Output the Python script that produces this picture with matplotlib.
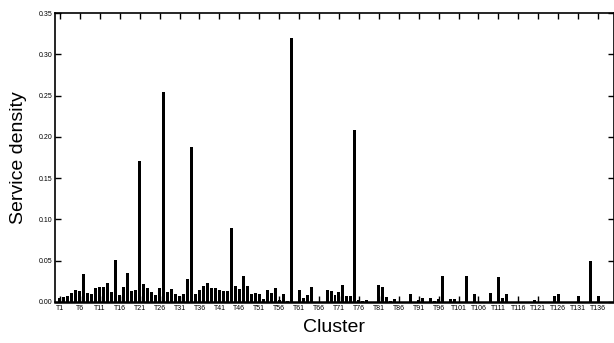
import numpy as np
import matplotlib
matplotlib.use('Agg')
import matplotlib.pyplot as plt

plt.rcParams['font.family'] = ['Liberation Sans', 'DejaVu Sans']

# service density per cluster
density = [
    0.005, 0.0056, 0.0073, 0.011, 0.014, 0.013, 0.034, 0.0105, 0.0093, 0.017,
    0.0185, 0.0185, 0.0226, 0.012, 0.051, 0.009, 0.0177, 0.035, 0.0137, 0.0145,
    0.171, 0.0218, 0.0173, 0.012, 0.008, 0.0165, 0.254, 0.0117, 0.0157, 0.0097,
    0.0073, 0.0093, 0.0274, 0.188, 0.010, 0.0145, 0.019, 0.0226, 0.0165, 0.017,
    0.0145, 0.0137, 0.013, 0.090, 0.019, 0.016, 0.032, 0.019, 0.0093, 0.0105,
    0.0097, 0.0032, 0.014, 0.0105, 0.0165, 0.002, 0.010, 0.001, 0.320, 0.0005,
    0.014, 0.005, 0.008, 0.018, 0.0005, 0.0, 0.0, 0.0145, 0.013, 0.0085,
    0.0117, 0.020, 0.0069, 0.0077, 0.208, 0.002, 0.001, 0.003, 0.0, 0.0,
    0.020, 0.0185, 0.0065, 0.001, 0.0036, 0.0, 0.0, 0.0, 0.0097, 0.0005,
    0.002, 0.005, 0.0, 0.005, 0.001, 0.004, 0.031, 0.0, 0.004, 0.004,
    0.0, 0.0, 0.031, 0.0, 0.0093, 0.0, 0.0, 0.0, 0.011, 0.0,
    0.030, 0.0044, 0.010, 0.0, 0.0, 0.0, 0.0, 0.0, 0.0, 0.003,
    0.0, 0.0, 0.0, 0.0, 0.0073, 0.010, 0.0, 0.0, 0.0, 0.0,
    0.0069, 0.0, 0.0, 0.050, 0.0, 0.0077, 0.0, 0.0,
]
clusters = ['T%d' % (i + 1) for i in range(len(density))]
yticks = [0.00, 0.05, 0.10, 0.15, 0.20, 0.25, 0.30, 0.35]

fig = plt.figure(figsize=(6.14, 3.43), dpi=100)
ax = fig.add_axes([55 / 614, 1 - 302 / 343, 559 / 614, 289 / 343])

x = np.arange(len(density))
ax.bar(x, density, width=0.75, color='black', linewidth=0)

ax.set_xlim(-1.25, 139)
ax.set_ylim(0, 0.35)
ax.set_xticks(x[::5])
ax.set_xticklabels(clusters[::5], fontsize=5)
ax.set_yticks(yticks)
ax.set_yticklabels(['%.2f' % v for v in yticks], fontsize=5)

ax.tick_params(axis='both', direction='in', length=4, width=1,
               top=True, right=True, pad=2)
for s in ax.spines.values():
    s.set_linewidth(1.2)
ax.spines['bottom'].set_linewidth(1.8)

ax.set_xlabel('Cluster', fontsize=14, labelpad=5)
ax.set_ylabel('Service density', fontsize=14, labelpad=8)

fig.savefig('out.png', dpi=100)
